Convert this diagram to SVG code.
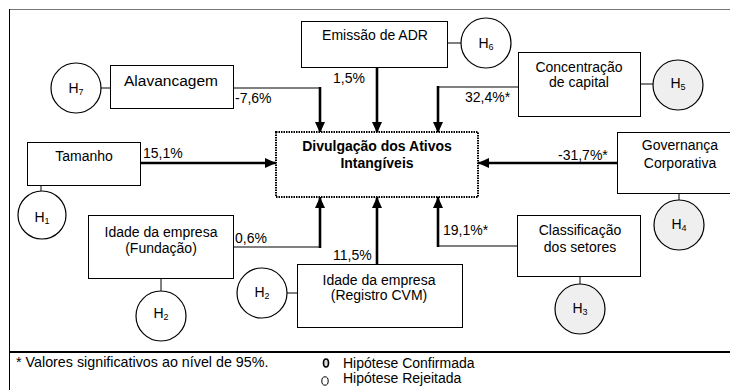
<svg xmlns="http://www.w3.org/2000/svg" width="730" height="390" viewBox="0 0 730 390">
<defs>
<marker id="ah" markerUnits="userSpaceOnUse" markerWidth="12" markerHeight="12" viewBox="0 0 12 12" refX="11" refY="6" orient="auto">
<path d="M0,1 L11,6 L0,11 Z" fill="#000"/>
</marker>
</defs>
<style>
text{font-family:"Liberation Sans",Arial,sans-serif;font-size:14px;fill:#000}
.box{fill:#fff;stroke:#000;stroke-width:1}
.hyp{fill:#fff;stroke:#000;stroke-width:1.2}
.hyp.ok{fill:#efefef}
.thin{fill:none;stroke:#000;stroke-width:1}
.thick{fill:none;stroke:#000;stroke-width:2.6}
.c{text-anchor:middle}
.sub{font-size:9px}
</style>
<rect x="0" y="0" width="730" height="390" fill="#fff"/>
<!-- frame -->
<line x1="9" y1="9.5" x2="730" y2="9.5" stroke="#777" stroke-width="1"/>
<line x1="9.5" y1="9" x2="9.5" y2="390" stroke="#000" stroke-width="1"/>
<line x1="9" y1="352" x2="730" y2="352" stroke="#000" stroke-width="2"/>

<g id="connectors">
<!-- hypothesis links -->
<line class="thin" x1="101" y1="88" x2="110" y2="88"/>
<line class="thin" x1="448" y1="43" x2="461" y2="43"/>
<line class="thin" x1="640" y1="84" x2="653" y2="84"/>
<line class="thin" x1="41" y1="185" x2="41" y2="191"/>
<line class="thin" x1="679" y1="193" x2="679" y2="200"/>
<line class="thin" x1="580" y1="276" x2="580" y2="284"/>
<line class="thin" x1="161" y1="278" x2="161" y2="291"/>
<line class="thin" x1="287" y1="293" x2="297" y2="293"/>
<!-- effect arrows -->
<line class="thin" x1="233" y1="88" x2="320" y2="88"/>
<line class="thick" x1="320" y1="87" x2="320" y2="133" marker-end="url(#ah)"/>
<line class="thick" x1="377" y1="68" x2="377" y2="133" marker-end="url(#ah)"/>
<line class="thin" x1="518" y1="87" x2="438" y2="87"/>
<line class="thick" x1="438" y1="86" x2="438" y2="133" marker-end="url(#ah)"/>
<line class="thick" x1="140" y1="163" x2="276" y2="163" marker-end="url(#ah)"/>
<line class="thick" x1="617" y1="163" x2="478" y2="163" marker-end="url(#ah)"/>
<line class="thin" x1="233" y1="247" x2="320" y2="247"/>
<line class="thick" x1="320" y1="248" x2="320" y2="197" marker-end="url(#ah)"/>
<line class="thick" x1="377" y1="264" x2="377" y2="197" marker-end="url(#ah)"/>
<line class="thin" x1="517" y1="246" x2="438" y2="246"/>
<line class="thick" x1="438" y1="247" x2="438" y2="197" marker-end="url(#ah)"/>
</g>

<g id="labels">
<text x="235" y="103">-7,6%</text>
<text x="333" y="83">1,5%</text>
<text x="465" y="102">32,4%*</text>
<text x="143" y="158">15,1%</text>
<text x="558" y="160">-31,7%*</text>
<text x="235" y="243">0,6%</text>
<text x="333" y="260">11,5%</text>
<text x="443" y="235">19,1%*</text>
</g>

<g id="target">
<rect x="276" y="132" width="202" height="65" fill="#fff" stroke="#000" stroke-width="2" stroke-dasharray="1.5,1"/>
<text class="c" x="377" y="151" font-weight="bold">Divulgação dos Ativos</text>
<text class="c" x="377" y="168" font-weight="bold">Intangíveis</text>
</g>

<g id="emissao">
<rect class="box" x="301.5" y="21.5" width="146" height="46"/>
<text class="c" x="375" y="40">Emissão de ADR</text>
</g>
<g id="alavancagem">
<rect class="box" x="110.5" y="65.5" width="123" height="43"/>
<text class="c" x="171" y="86" style="font-size:15.5px">Alavancagem</text>
</g>
<g id="concentracao">
<rect class="box" x="518.5" y="52.5" width="122" height="64"/>
<text class="c" x="579" y="72">Concentração</text>
<text class="c" x="579" y="87">de capital</text>
</g>
<g id="tamanho">
<rect class="box" x="27.5" y="142.5" width="113" height="43"/>
<text class="c" x="84" y="161">Tamanho</text>
</g>
<g id="governanca">
<rect class="box" x="617.5" y="132.5" width="115" height="61"/>
<text class="c" x="680" y="150">Governança</text>
<text class="c" x="680" y="168">Corporativa</text>
</g>
<g id="fundacao">
<rect class="box" x="88.5" y="215.5" width="145" height="63"/>
<text class="c" x="161" y="237">Idade da empresa</text>
<text class="c" x="161" y="253">(Fundação)</text>
</g>
<g id="cvm">
<rect class="box" x="297.5" y="264.5" width="165" height="63"/>
<text class="c" x="379" y="285">Idade da empresa</text>
<text class="c" x="379" y="300">(Registro CVM)</text>
</g>
<g id="classificacao">
<rect class="box" x="517.5" y="215.5" width="123" height="61"/>
<text class="c" x="580" y="235">Classificação</text>
<text class="c" x="580" y="252">dos setores</text>
</g>

<g id="h7"><circle class="hyp" cx="76" cy="88" r="25"/><text class="c" x="76" y="93">H<tspan class="sub" dy="2">7</tspan></text></g>
<g id="h6"><circle class="hyp" cx="486" cy="43" r="25"/><text class="c" x="486" y="48">H<tspan class="sub" dy="2">6</tspan></text></g>
<g id="h5"><circle class="hyp ok" cx="678" cy="85" r="25"/><text class="c" x="678" y="88">H<tspan class="sub" dy="2">5</tspan></text></g>
<g id="h1"><circle class="hyp" cx="42" cy="215" r="24"/><text class="c" x="42" y="222">H<tspan class="sub" dy="2">1</tspan></text></g>
<g id="h4"><circle class="hyp ok" cx="679" cy="225" r="25"/><text class="c" x="679" y="229">H<tspan class="sub" dy="2">4</tspan></text></g>
<g id="h3"><circle class="hyp ok" cx="580" cy="309" r="25"/><text class="c" x="580" y="313">H<tspan class="sub" dy="2">3</tspan></text></g>
<g id="h2a"><circle class="hyp" cx="161" cy="316" r="25"/><text class="c" x="161" y="318">H<tspan class="sub" dy="2">2</tspan></text></g>
<g id="h2b"><circle class="hyp" cx="262" cy="293" r="25"/><text class="c" x="262" y="297">H<tspan class="sub" dy="2">2</tspan></text></g>

<g id="legend">
<text x="16" y="367" style="font-size:14.3px">* Valores significativos ao nível de 95%.</text>
<ellipse cx="326" cy="363" rx="2.5" ry="4" fill="#ddd" stroke="#000" stroke-width="1.6"/>
<text x="343" y="368">Hipótese Confirmada</text>
<ellipse cx="325" cy="381" rx="3.2" ry="4.2" fill="#fff" stroke="#000" stroke-width="1"/>
<text x="343" y="383">Hipótese Rejeitada</text>
</g>
</svg>
